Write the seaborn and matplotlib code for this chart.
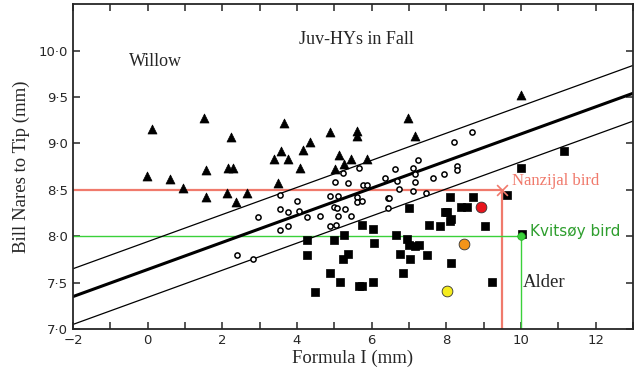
import numpy as np
import pandas as pd
import matplotlib
matplotlib.use("Agg")
import matplotlib.pyplot as plt
from matplotlib.ticker import MultipleLocator, FixedLocator, FuncFormatter
import seaborn as sns

# Willow (filled triangles)
willow_x = [0.12, 1.50, 2.23, -0.02, 0.60, 0.96, 1.56, 2.14, 2.28, 1.57, 2.13, 2.36, 2.66,
            3.65, 4.88, 4.36, 3.56, 4.16, 3.39, 3.77, 4.08, 5.12, 5.46, 5.25, 5.02, 3.48,
            6.97, 5.62, 5.62, 7.15, 5.87, 10.0]
willow_y = [9.16, 9.27, 9.07, 8.65, 8.62, 8.52, 8.71, 8.73, 8.73, 8.42, 8.47, 8.37, 8.47,
            9.22, 9.12, 9.02, 8.92, 8.93, 8.83, 8.83, 8.73, 8.87, 8.83, 8.78, 8.72, 8.57,
            9.27, 9.13, 9.08, 9.08, 8.83, 9.52]

# intermediates (open circles)
mid_x = [2.96, 2.40, 2.82, 3.55, 3.55, 3.55, 3.77, 3.77, 4.00, 4.06, 4.27, 4.63, 4.88, 5.10,
         5.03, 5.24, 5.37, 4.99, 5.06, 5.28, 5.45, 5.09, 4.88, 5.05, 5.60, 5.60, 5.74, 6.45,
         6.45, 5.65, 5.78, 5.87, 6.36, 6.63, 6.67, 7.12, 7.23, 7.15, 7.16, 7.65, 7.95, 6.72,
         7.12, 7.46, 6.47, 8.21, 8.70, 8.30, 8.30]
mid_y = [8.21, 7.80, 7.75, 8.44, 8.29, 8.07, 8.26, 8.11, 8.38, 8.27, 8.21, 8.22, 8.43, 8.43,
         8.58, 8.68, 8.57, 8.32, 8.30, 8.29, 8.22, 8.22, 8.11, 8.12, 8.42, 8.37, 8.38, 8.41,
         8.30, 8.73, 8.55, 8.55, 8.63, 8.72, 8.59, 8.73, 8.82, 8.67, 8.58, 8.63, 8.67, 8.51,
         8.49, 8.47, 8.41, 9.02, 9.12, 8.76, 8.71]

# Alder (filled squares)
alder_x = [4.27, 4.98, 5.25, 4.27, 5.24, 5.37, 4.88, 5.15, 4.48, 5.65, 7.01, 7.96, 5.74, 6.04,
           7.55, 7.84, 6.65, 6.94, 7.01, 7.15, 7.27, 6.07, 6.76, 7.48, 7.04, 6.84, 5.74, 6.04,
           8.11, 8.72, 8.55, 8.40, 8.01, 8.13, 8.11, 9.03, 8.12, 9.22, 9.62, 10.0, 11.15, 10.02]
alder_y = [7.96, 7.96, 8.01, 7.80, 7.75, 7.81, 7.60, 7.51, 7.40, 7.46, 8.30, 8.26, 8.12, 8.08,
           8.12, 8.11, 8.01, 7.97, 7.91, 7.90, 7.91, 7.93, 7.81, 7.80, 7.76, 7.60, 7.46, 7.51,
           8.42, 8.42, 8.32, 8.32, 8.26, 8.19, 8.16, 8.11, 7.71, 7.51, 8.44, 8.73, 8.92, 8.02]

# added coloured birds
extra_x = [8.92, 8.48, 8.01]
extra_y = [8.31, 7.92, 7.41]
extra_colors = ["#e8141c", "#f39419", "#f5ec1e"]

# discriminant line and its bounds
slope = 0.146
intercept = 7.642
band = 0.30

nanzijal = (9.5, 8.5)
kvitsoy = (10.0, 8.0)

y_ticks = [7.0, 7.5, 8.0, 8.5, 9.0, 9.5, 10.0]
xmin, xmax = -2, 13
ymin, ymax = 7.0, 10.5

sns.set_style("ticks")
fig = plt.figure(figsize=(6.4, 3.8), dpi=100)
ax = fig.add_axes([0.114, 0.134, 0.875, 0.855])

serif = "Liberation Serif"
red = "#f07a6c"
green = "#3ad13a"

# reference lines for the two birds
ax.plot([xmin, nanzijal[0]], [nanzijal[1], nanzijal[1]], color=red, lw=1.6, zorder=1)
ax.plot([nanzijal[0], nanzijal[0]], [ymin, nanzijal[1]], color=red, lw=1.6, zorder=1)
ax.plot([xmin, kvitsoy[0]], [kvitsoy[1], kvitsoy[1]], color=green, lw=1.0, zorder=1)
ax.plot([kvitsoy[0], kvitsoy[0]], [ymin, kvitsoy[1]], color=green, lw=1.0, zorder=1)

xs = np.array([xmin, xmax])
line_df = pd.DataFrame({"x": np.tile(xs, 3),
                        "y": np.concatenate([intercept + slope * xs,
                                             intercept + band + slope * xs,
                                             intercept - band + slope * xs]),
                        "which": ["mid"] * 2 + ["up"] * 2 + ["low"] * 2})
sns.lineplot(data=line_df, x="x", y="y", units="which", estimator=None,
             color="black", lw=0.9, ax=ax, zorder=2)
sns.lineplot(data=line_df[line_df["which"] == "mid"], x="x", y="y",
             color="black", lw=2.2, ax=ax, zorder=2)

sns.scatterplot(x=willow_x, y=willow_y, marker="^", s=42, color="black",
                edgecolor="black", linewidth=0.5, ax=ax, zorder=3)
sns.scatterplot(x=alder_x, y=alder_y, marker="s", s=26, color="black",
                edgecolor="black", linewidth=0.5, ax=ax, zorder=3)
sns.scatterplot(x=mid_x, y=mid_y, marker="o", s=14, facecolor="white",
                edgecolor="black", linewidth=1.1, ax=ax, zorder=3)
for x, y, c in zip(extra_x, extra_y, extra_colors):
    ax.scatter(x, y, s=60, color=c, edgecolor="#333333", linewidth=0.6, zorder=4)
ax.scatter(*kvitsoy, s=30, color=green, edgecolor="#22aa22", linewidth=0.5, zorder=4)
ax.scatter(*nanzijal, s=60, marker="x", color=red, linewidth=1.2, zorder=4)

ax.text(nanzijal[0] + 0.25, nanzijal[1] + 0.1, "Nanzijal bird", color=red,
        family=serif, fontsize=12, va="center")
ax.text(kvitsoy[0] + 0.25, kvitsoy[1] + 0.05, "Kvitsøy bird", color="#2e9e2e",
        fontsize=11, va="center")
ax.text(-0.5, 9.88, "Willow", family=serif, fontsize=13, va="center")
ax.text(5.6, 10.12, "Juv-HYs in Fall", family=serif, fontsize=13, va="center", ha="center")
ax.text(10.05, 7.5, "Alder", family=serif, fontsize=13.5, va="center")

ax.set_xlim(xmin, xmax)
ax.set_ylim(ymin, ymax)
ax.xaxis.set_major_locator(MultipleLocator(2))
ax.xaxis.set_minor_locator(MultipleLocator(1))
ax.yaxis.set_major_locator(FixedLocator(y_ticks))
ax.yaxis.set_major_formatter(FuncFormatter(lambda v, p: f"{v:.1f}".replace(".", "·")))
ax.tick_params(which="both", direction="in", top=True, right=True, length=5,
               width=1.1, labelsize=9.5)
for s in ax.spines.values():
    s.set_linewidth(1.3)

ax.set_xlabel("Formula I (mm)", family=serif, fontsize=13.5, labelpad=2)
ax.set_ylabel("Bill Nares to Tip (mm)", family=serif, fontsize=13.5, labelpad=6)

fig.savefig("out.png", dpi=100)
